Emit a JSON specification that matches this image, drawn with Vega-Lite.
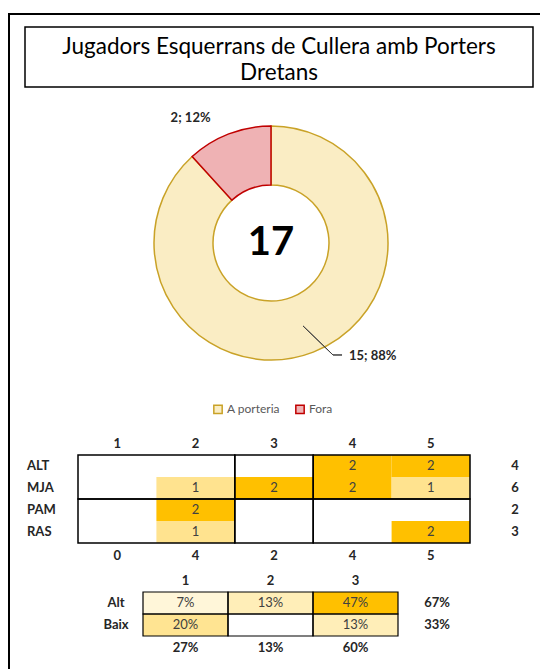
{
  "$schema": "https://vega.github.io/schema/vega-lite/v6.json",
  "width": 533,
  "height": 657,
  "autosize": {"type": "none"},
  "padding": {"left": 9, "top": 14, "right": -2, "bottom": -2},
  "background": "white",
  "config": {
    "font": "Lato",
    "view": {"stroke": "black", "strokeWidth": 2}
  },
  "datasets": {
    "titleData": [{"title": "Jugadors Esquerrans de Cullera amb Porters\nDretans"}],
    "donut": [
      {"cat": "A porteria", "n": 15, "label": "15; 88%"},
      {"cat": "Fora", "n": 2, "label": "2; 12%"}
    ],
    "cells": [
      {"col": "4", "row": "ALT", "v": 2},
      {"col": "5", "row": "ALT", "v": 2},
      {"col": "2", "row": "MJA", "v": 1},
      {"col": "3", "row": "MJA", "v": 2},
      {"col": "4", "row": "MJA", "v": 2},
      {"col": "5", "row": "MJA", "v": 1},
      {"col": "2", "row": "PAM", "v": 2},
      {"col": "2", "row": "RAS", "v": 1},
      {"col": "5", "row": "RAS", "v": 2}
    ],
    "blocks": [
      {"c0": "1", "c1": "2", "r0": "ALT", "r1": "MJA"},
      {"c0": "3", "c1": "3", "r0": "ALT", "r1": "MJA"},
      {"c0": "4", "c1": "5", "r0": "ALT", "r1": "MJA"},
      {"c0": "1", "c1": "2", "r0": "PAM", "r1": "RAS"},
      {"c0": "3", "c1": "3", "r0": "PAM", "r1": "RAS"},
      {"c0": "4", "c1": "5", "r0": "PAM", "r1": "RAS"}
    ],
    "rowTot": [
      {"row": "ALT", "total": 4},
      {"row": "MJA", "total": 6},
      {"row": "PAM", "total": 2},
      {"row": "RAS", "total": 3}
    ],
    "colTot": [
      {"col": "1", "total": 0},
      {"col": "2", "total": 4},
      {"col": "3", "total": 2},
      {"col": "4", "total": 4},
      {"col": "5", "total": 5}
    ],
    "pct": [
      {"c": "1", "r": "Alt", "p": 0.07},
      {"c": "2", "r": "Alt", "p": 0.13},
      {"c": "3", "r": "Alt", "p": 0.47},
      {"c": "1", "r": "Baix", "p": 0.20},
      {"c": "2", "r": "Baix", "p": null},
      {"c": "3", "r": "Baix", "p": 0.13}
    ],
    "pctRow": [
      {"r": "Alt", "p": 0.67},
      {"r": "Baix", "p": 0.33}
    ],
    "pctCol": [
      {"c": "1", "p": 0.27},
      {"c": "2", "p": 0.13},
      {"c": "3", "p": 0.60}
    ]
  },
  "resolve": {
    "scale": {"x": "independent", "y": "independent", "fill": "independent", "stroke": "independent", "theta": "independent", "opacity": "independent"},
    "axis": {"x": "independent", "y": "independent"},
    "legend": {"fill": "independent", "stroke": "independent"}
  },
  "layer": [
    {
      "data": {"name": "titleData"},
      "encoding": {
        "x": {"field": "title", "type": "nominal", "axis": null, "scale": {"type": "band", "range": [16, 524], "paddingInner": 0, "paddingOuter": 0}},
        "y": {"field": "title", "type": "nominal", "axis": null, "scale": {"type": "band", "range": [13, 73], "paddingInner": 0, "paddingOuter": 0}}
      },
      "layer": [
        {"mark": {"type": "rect", "fill": "white", "stroke": "black", "strokeWidth": 1.5}},
        {"mark": {"type": "text", "fontSize": 22.5, "lineBreak": "\n", "lineHeight": 26, "color": "black", "dy": -10}, "encoding": {"text": {"field": "title"}}}
      ]
    },
    {
      "data": {"name": "donut"},
      "encoding": {
        "x": {"datum": 0, "type": "quantitative", "axis": null, "scale": {"domain": [-1, 1], "range": [145, 379]}},
        "y": {"datum": 0, "type": "quantitative", "axis": null, "scale": {"domain": [-1, 1], "range": [346, 112]}}
      },
      "layer": [
        {
          "mark": {"type": "arc", "innerRadius": 58, "outerRadius": 117, "strokeWidth": 1.5},
          "encoding": {
            "theta": {"field": "n", "type": "quantitative", "stack": true},
            "order": {"field": "n", "type": "quantitative", "sort": "descending"},
            "fill": {"field": "cat", "type": "nominal", "scale": {"domain": ["A porteria", "Fora"], "range": ["#FAEDC4", "#EFB2B4"]},
              "legend": {"orient": "none", "legendX": 203, "legendY": 389, "direction": "horizontal", "title": null, "labelFontSize": 12, "labelColor": "#595959", "symbolType": "square", "symbolSize": 70, "symbolStrokeWidth": 1.5, "columnPadding": 12, "labelOffset": 3}},
            "stroke": {"field": "cat", "type": "nominal", "scale": {"domain": ["A porteria", "Fora"], "range": ["#C9A227", "#C00000"]},
              "legend": {"orient": "none", "legendX": 203, "legendY": 389, "direction": "horizontal", "title": null, "labelFontSize": 12, "labelColor": "#595959", "symbolType": "square", "symbolSize": 70, "symbolStrokeWidth": 1.5, "columnPadding": 12, "labelOffset": 3}}
          }
        },
        {
          "mark": {"type": "text", "radius": 134, "dx": -32, "fontWeight": "bold", "fontSize": 13, "color": "#262626"},
          "encoding": {
            "theta": {"field": "n", "type": "quantitative", "stack": true},
            "order": {"field": "n", "type": "quantitative", "sort": "descending"},
            "text": {"field": "label"},
            "opacity": {"condition": {"test": "datum.cat === 'Fora'", "value": 1}, "value": 0}
          }
        },
        {
          "mark": {"type": "text", "radius": 121, "dx": 58, "fontWeight": "bold", "fontSize": 13, "color": "#262626"},
          "encoding": {
            "theta": {"field": "n", "type": "quantitative", "stack": true},
            "order": {"field": "n", "type": "quantitative", "sort": "descending"},
            "text": {"field": "label"},
            "opacity": {"condition": {"test": "datum.cat === 'A porteria'", "value": 1}, "value": 0}
          }
        },
        {
          "mark": {"type": "text", "fontSize": 40, "fontWeight": "bold", "color": "black"},
          "encoding": {"text": {"aggregate": "sum", "field": "n", "type": "quantitative"}}
        },
        {
          "mark": {"type": "rule", "color": "#404040", "strokeWidth": 1},
          "encoding": {"x": {"datum": 0.274}, "y": {"datum": -0.709}, "x2": {"datum": 0.53}, "y2": {"datum": -0.957}}
        },
        {
          "mark": {"type": "rule", "color": "#404040", "strokeWidth": 1},
          "encoding": {"x": {"datum": 0.53}, "y": {"datum": -0.957}, "x2": {"datum": 0.607}, "y2": {"datum": -0.957}}
        }
      ]
    },
    {
      "layer": [
        {
          "data": {"name": "cells"},
          "mark": {"type": "rect"},
          "encoding": {
            "x": {"field": "col", "type": "nominal", "axis": null, "scale": {"type": "band", "domain": ["1", "2", "3", "4", "5"], "range": [69, 461], "paddingInner": 0, "paddingOuter": 0}},
            "y": {"field": "row", "type": "nominal", "axis": null, "scale": {"type": "band", "domain": ["ALT", "MJA", "PAM", "RAS"], "range": [441, 529], "paddingInner": 0, "paddingOuter": 0}},
            "fill": {"field": "v", "type": "ordinal", "scale": {"domain": [1, 2], "range": ["#FFE38F", "#FFC000"]}, "legend": null}
          }
        },
        {
          "data": {"name": "cells"},
          "mark": {"type": "text", "fontSize": 13, "color": "#404040"},
          "encoding": {
            "x": {"field": "col", "type": "nominal"},
            "y": {"field": "row", "type": "nominal"},
            "text": {"field": "v", "type": "quantitative"}
          }
        },
        {
          "data": {"name": "blocks"},
          "mark": {"type": "rect", "fillOpacity": 0, "stroke": "black", "strokeWidth": 1.5},
          "encoding": {
            "x": {"field": "c0", "type": "nominal", "bandPosition": 0},
            "x2": {"field": "c1", "bandPosition": 1},
            "y": {"field": "r0", "type": "nominal", "bandPosition": 0},
            "y2": {"field": "r1", "bandPosition": 1}
          }
        },
        {
          "data": {"name": "colTot"},
          "mark": {"type": "text", "fontSize": 13, "fontWeight": "bold", "color": "#262626", "dy": -22},
          "encoding": {
            "x": {"field": "col", "type": "nominal"},
            "y": {"datum": "ALT", "type": "nominal"},
            "text": {"field": "col"}
          }
        },
        {
          "data": {"name": "colTot"},
          "mark": {"type": "text", "fontSize": 13, "fontWeight": "bold", "color": "#262626", "dy": 24},
          "encoding": {
            "x": {"field": "col", "type": "nominal"},
            "y": {"datum": "RAS", "type": "nominal"},
            "text": {"field": "total", "type": "quantitative"}
          }
        },
        {
          "data": {"name": "rowTot"},
          "mark": {"type": "text", "fontSize": 13, "fontWeight": "bold", "color": "#262626", "align": "left", "dx": -51},
          "encoding": {
            "x": {"datum": "1", "type": "nominal", "bandPosition": 0},
            "y": {"field": "row", "type": "nominal"},
            "text": {"field": "row"}
          }
        },
        {
          "data": {"name": "rowTot"},
          "mark": {"type": "text", "fontSize": 13, "fontWeight": "bold", "color": "#262626", "dx": 45},
          "encoding": {
            "x": {"datum": "5", "type": "nominal", "bandPosition": 1},
            "y": {"field": "row", "type": "nominal"},
            "text": {"field": "total", "type": "quantitative"}
          }
        }
      ]
    },
    {
      "layer": [
        {
          "data": {"name": "pct"},
          "mark": {"type": "rect"},
          "encoding": {
            "x": {"field": "c", "type": "nominal", "axis": null, "scale": {"type": "band", "domain": ["1", "2", "3"], "range": [134, 389], "paddingInner": 0, "paddingOuter": 0}},
            "y": {"field": "r", "type": "nominal", "axis": null, "scale": {"type": "band", "domain": ["Alt", "Baix"], "range": [578, 622], "paddingInner": 0, "paddingOuter": 0}},
            "fill": {"field": "p", "type": "quantitative", "scale": {"domain": [0, 0.47], "range": ["#FFFFFF", "#FFC000"], "interpolate": "rgb"}, "legend": null}
          }
        },
        {
          "data": {"name": "pct"},
          "mark": {"type": "rect", "fillOpacity": 0, "stroke": "black", "strokeWidth": 1.2},
          "encoding": {
            "x": {"field": "c", "type": "nominal"},
            "y": {"field": "r", "type": "nominal"}
          }
        },
        {
          "data": {"name": "pct"},
          "transform": [{"filter": "datum.p != null"}],
          "mark": {"type": "text", "fontSize": 13, "color": "#404040"},
          "encoding": {
            "x": {"field": "c", "type": "nominal"},
            "y": {"field": "r", "type": "nominal"},
            "text": {"field": "p", "type": "quantitative", "format": ".0%"}
          }
        },
        {
          "data": {"name": "pctCol"},
          "mark": {"type": "text", "fontSize": 13, "fontWeight": "bold", "color": "#262626", "dy": -22},
          "encoding": {
            "x": {"field": "c", "type": "nominal"},
            "y": {"datum": "Alt", "type": "nominal"},
            "text": {"field": "c"}
          }
        },
        {
          "data": {"name": "pctCol"},
          "mark": {"type": "text", "fontSize": 13, "fontWeight": "bold", "color": "#262626", "dy": 23},
          "encoding": {
            "x": {"field": "c", "type": "nominal"},
            "y": {"datum": "Baix", "type": "nominal"},
            "text": {"field": "p", "type": "quantitative", "format": ".0%"}
          }
        },
        {
          "data": {"name": "pctRow"},
          "mark": {"type": "text", "fontSize": 13, "fontWeight": "bold", "color": "#262626", "dx": -27},
          "encoding": {
            "x": {"datum": "1", "type": "nominal", "bandPosition": 0},
            "y": {"field": "r", "type": "nominal"},
            "text": {"field": "r"}
          }
        },
        {
          "data": {"name": "pctRow"},
          "mark": {"type": "text", "fontSize": 13, "fontWeight": "bold", "color": "#262626", "dx": 39},
          "encoding": {
            "x": {"datum": "3", "type": "nominal", "bandPosition": 1},
            "y": {"field": "r", "type": "nominal"},
            "text": {"field": "p", "type": "quantitative", "format": ".0%"}
          }
        }
      ]
    }
  ]
}
